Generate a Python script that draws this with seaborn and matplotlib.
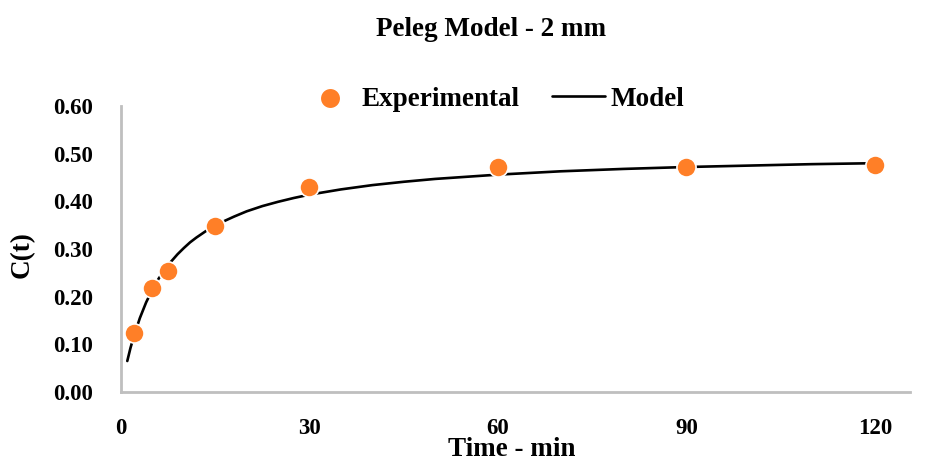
import matplotlib
matplotlib.use("Agg")
import matplotlib.pyplot as plt
import seaborn as sns
import pandas as pd

# Experimental data
exp_time = [2, 5, 7.5, 15, 30, 60, 90, 120]
exp_conc = [0.124, 0.218, 0.253, 0.349, 0.430, 0.472, 0.472, 0.477]

# Model curve
model_time = [1, 1.5, 2, 3, 4, 5, 6, 7.5, 8, 9, 10, 11, 12, 13.5, 15, 16.5, 18, 20,
              22.5, 25, 27.5, 30, 35, 40, 45, 50, 60, 70, 80, 90, 100, 110, 120]
model_conc = [0.065, 0.092, 0.115, 0.155, 0.188, 0.215, 0.238, 0.266, 0.274, 0.289,
              0.302, 0.314, 0.324, 0.3375, 0.349, 0.359, 0.368, 0.379, 0.390, 0.399,
              0.407, 0.414, 0.425, 0.434, 0.441, 0.447, 0.456, 0.463, 0.468, 0.472,
              0.475, 0.478, 0.480]

x_ticks = [0, 30, 60, 90, 120]
y_ticks = [0.0, 0.1, 0.2, 0.3, 0.4, 0.5, 0.6]

sns.set_theme(style="white")
plt.rcParams['font.family'] = ['Liberation Serif', 'DejaVu Serif']
plt.rcParams['font.weight'] = 'bold'
plt.rcParams['text.color'] = 'black'
plt.rcParams['axes.labelcolor'] = 'black'
plt.rcParams['xtick.color'] = 'black'
plt.rcParams['ytick.color'] = 'black'

fig = plt.figure(figsize=(9.27, 4.62), dpi=100)
ax = fig.add_axes([121/927, 1-392/462, (910-121)/927, (392-106)/462])

df_exp = pd.DataFrame({"t": exp_time, "c": exp_conc})
df_mod = pd.DataFrame({"t": model_time, "c": model_conc})

sns.lineplot(data=df_mod, x="t", y="c", ax=ax, color="black", linewidth=1.9,
             label="Model", zorder=2)
sns.scatterplot(data=df_exp, x="t", y="c", ax=ax, color="#FF7F27", s=190,
                edgecolor="white", linewidth=1.2, label="Experimental", zorder=3)

ax.set_xlim(0, 125.6)
ax.set_ylim(0, 0.6)
ax.set_xticks(x_ticks)
ax.set_xticklabels([str(v) for v in x_ticks])
ax.set_yticks(y_ticks)
ax.set_yticklabels([f"{v:.2f}" for v in y_ticks])
ax.tick_params(axis='both', length=0, labelsize=16.5, colors='black')
ax.tick_params(axis='x', pad=19)
ax.tick_params(axis='y', pad=20)
for lab in ax.get_xticklabels() + ax.get_yticklabels():
    lab.set_fontweight('bold')
    lab.set_color('black')

for s in ['top', 'right']:
    ax.spines[s].set_visible(False)
for s in ['left', 'bottom']:
    ax.spines[s].set_color('#BFBFBF')
    ax.spines[s].set_linewidth(2)

ax.set_xlabel("Time - min", fontsize=19.5, fontweight='bold', color='black')
ax.set_ylabel("C(t)", fontsize=19.5, fontweight='bold', color='black')
ax.xaxis.label.set_va('baseline')
ax.xaxis.set_label_coords((512-121)/789, (392-456)/286)
ax.yaxis.set_label_coords((35-121)/789, (392-255)/286)

fig.text(491/927, 1-30/462, "Peleg Model - 2 mm", ha='center', va='center',
         fontsize=19.5, fontweight='bold', color='black')

handles, labels = ax.get_legend_handles_labels()
order = [labels.index("Experimental"), labels.index("Model")]
leg = ax.legend([handles[i] for i in order], [labels[i] for i in order],
                loc='center', bbox_to_anchor=(494/927, 1-99/462),
                bbox_transform=fig.transFigure, ncol=2, frameon=False,
                prop={'size': 19.5, 'weight': 'bold'}, handlelength=1.95,
                handletextpad=0.2, columnspacing=1.2)
for t in leg.get_texts():
    t.set_color('black')
h0 = leg.legend_handles[0]
if hasattr(h0, "set_sizes"):
    h0.set_sizes([220])
elif hasattr(h0, "set_markersize"):
    h0.set_markersize(14)

fig.savefig("out.png", dpi=100)
